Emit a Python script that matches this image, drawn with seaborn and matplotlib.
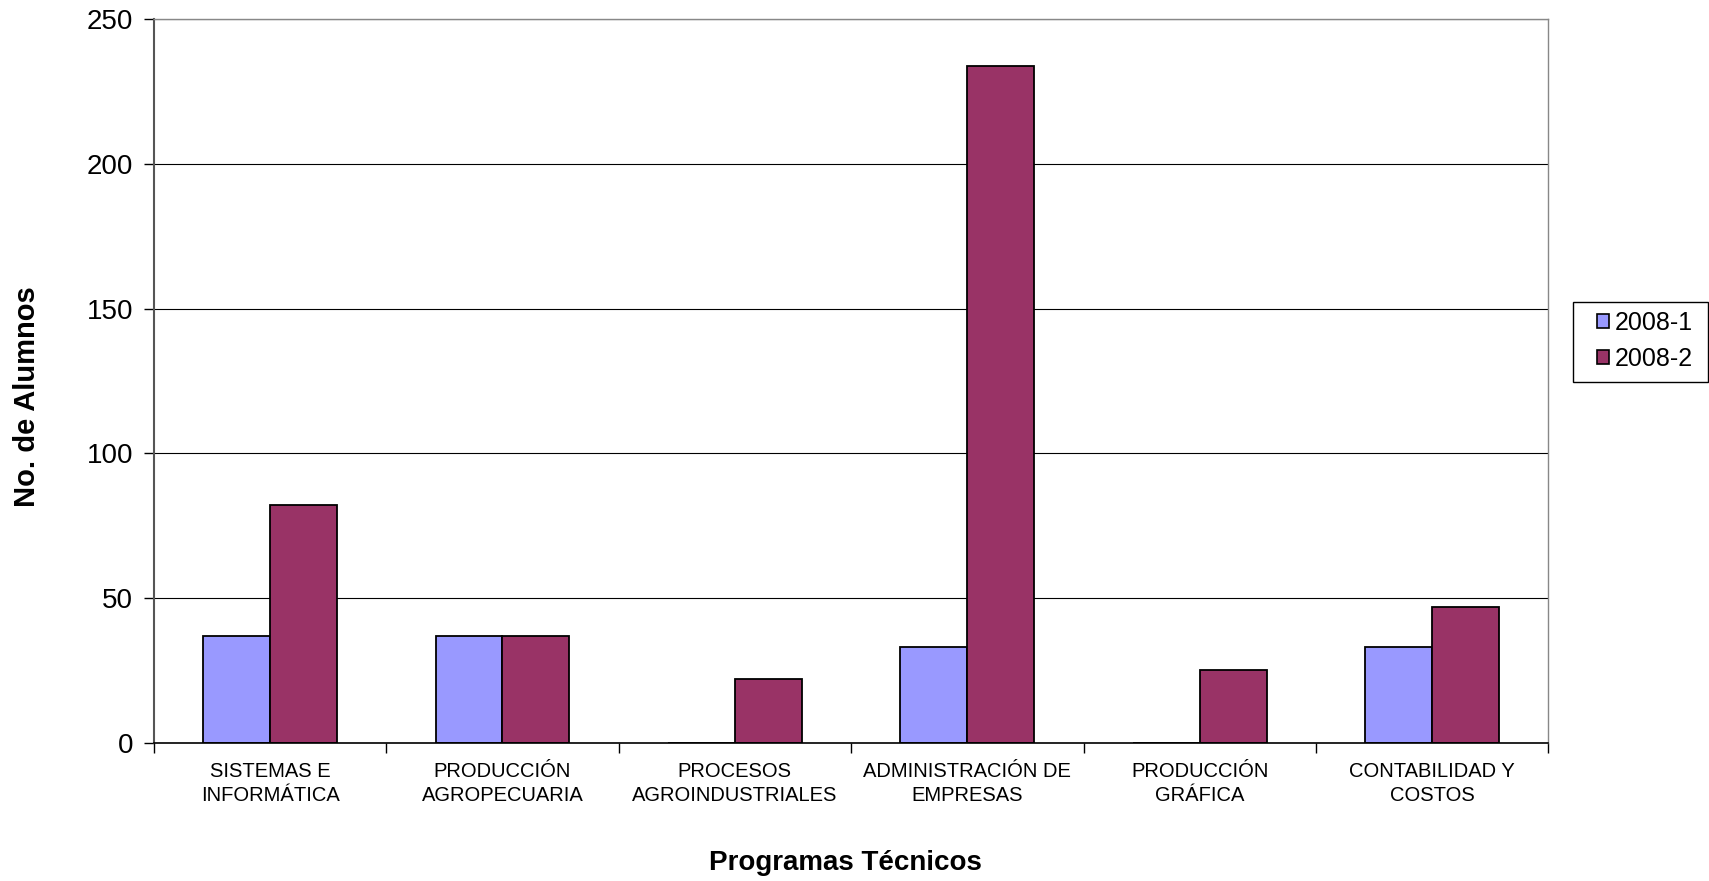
import matplotlib
matplotlib.use("Agg")
import matplotlib.pyplot as plt
from matplotlib.patches import Rectangle
import seaborn as sns
import pandas as pd
import numpy as np

categories = ["SISTEMAS E\nINFORMÁTICA", "PRODUCCIÓN\nAGROPECUARIA", "PROCESOS\nAGROINDUSTRIALES",
              "ADMINISTRACIÓN DE\nEMPRESAS", "PRODUCCIÓN\nGRÁFICA", "CONTABILIDAD Y\nCOSTOS"]
series_names = ["2008-1", "2008-2"]
values_2008_1 = [37, 37, 0, 33, 0, 33]
values_2008_2 = [82, 37, 22, 234, 25, 47]
y_ticks = [0, 50, 100, 150, 200, 250]
colors = ["#9999FF", "#993366"]

df = pd.DataFrame({
    "Programa": categories * 2,
    "Periodo": [series_names[0]] * len(categories) + [series_names[1]] * len(categories),
    "Alumnos": values_2008_1 + values_2008_2,
})

sns.set_style("white")
plt.rcParams["font.family"] = ["Liberation Sans", "DejaVu Sans"]
plt.rcParams["text.color"] = "black"
plt.rcParams["axes.labelcolor"] = "black"
plt.rcParams["xtick.color"] = "black"
plt.rcParams["ytick.color"] = "black"

fig = plt.figure(figsize=(17.09, 8.81), dpi=100)
ax = fig.add_axes([0.090, 0.157, 0.816, 0.821])

sns.barplot(data=df, x="Programa", y="Alumnos", hue="Periodo", order=categories,
            hue_order=series_names, palette=colors, width=0.575, saturation=1,
            edgecolor="black", linewidth=1.3, ax=ax, legend=True)

ax.set_ylim(0, 250)
ax.set_xlim(-0.5, len(categories) - 0.5)
ax.set_yticks(y_ticks)
ax.set_yticklabels([str(t) for t in y_ticks], fontsize=20)
ax.yaxis.grid(True, color="black", linewidth=0.8)
ax.set_axisbelow(True)

# Category labels centered, tick marks at boundaries
ax.set_xticks(np.arange(len(categories)))
ax.set_xticklabels(categories, fontsize=14.5, linespacing=1.3)
ax.tick_params(axis="x", which="major", length=0, pad=14)
ax.set_xticks(np.arange(-0.5, len(categories)), minor=True)
ax.tick_params(axis="x", which="minor", length=7, width=1, color="black", direction="out", bottom=True)
ax.tick_params(axis="y", length=7, width=1, color="black", direction="out", left=True, pad=8)

for s in ["top", "right"]:
    ax.spines[s].set_color("#888888")
    ax.spines[s].set_linewidth(1)
ax.spines["left"].set_color("#555555")
ax.spines["left"].set_linewidth(1.5)
ax.spines["bottom"].set_color("black")
ax.spines["bottom"].set_linewidth(1.2)

ax.set_xlabel("Programas Técnicos", fontsize=20, fontweight="bold")
ax.xaxis.set_label_coords(0.496, -0.148)
ax.set_ylabel("No. de Alumnos", fontsize=21, fontweight="bold")
ax.yaxis.set_label_coords(-0.0812, 0.478)

leg = ax.legend(loc="center left", bbox_to_anchor=(0.9345, 0.613), bbox_transform=fig.transFigure,
                fontsize=18, frameon=False,
                handlelength=0.46, handleheight=0.46, handletextpad=0.25,
                borderpad=0, labelspacing=0.5, borderaxespad=0)
for h in leg.legend_handles:
    h.set_edgecolor("black")
    h.set_linewidth(1.2)

# Legend box (plain rectangular frame as in the reference)
fig.patches.append(Rectangle((0.9204, 0.5664), 0.0790, 0.0908, transform=fig.transFigure,
                             fill=False, edgecolor="black", linewidth=1, figure=fig))

fig.savefig("out.png", dpi=100)
